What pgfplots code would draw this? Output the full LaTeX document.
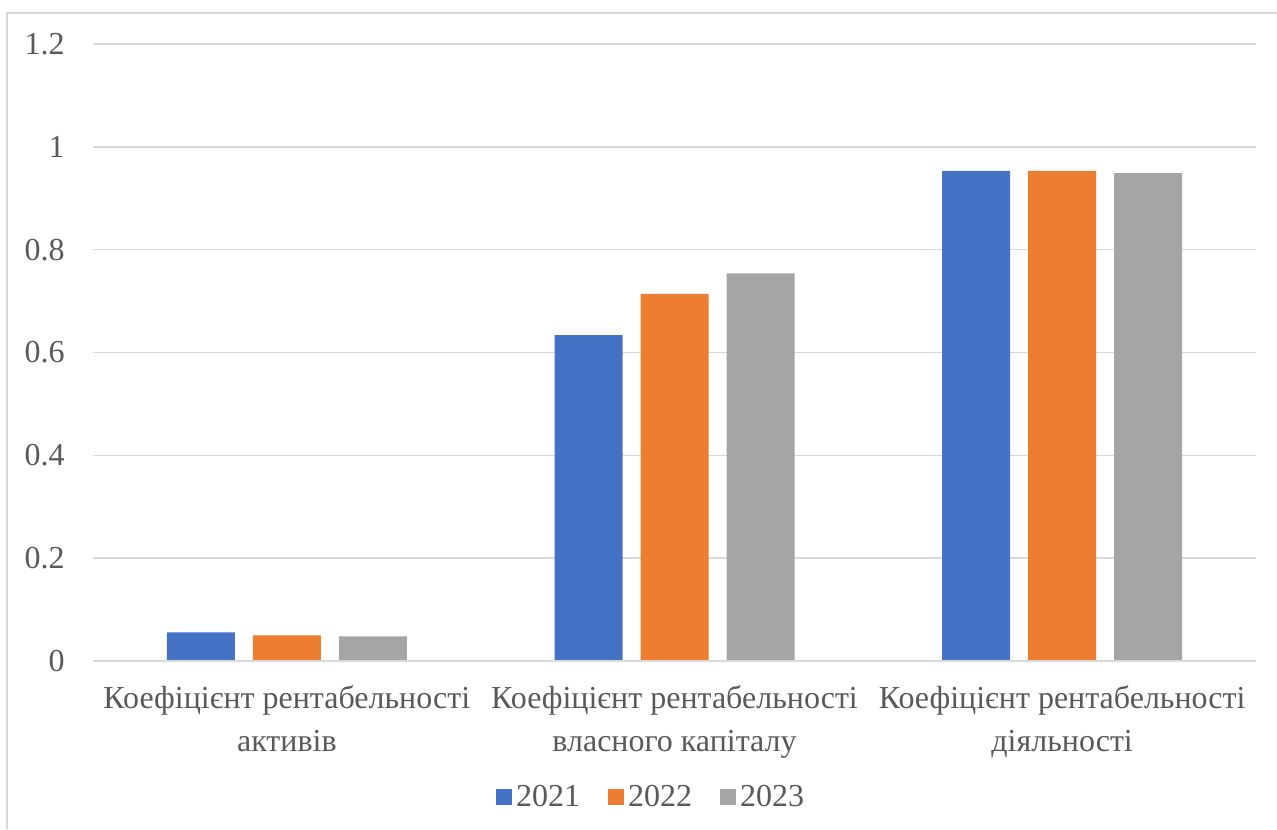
\documentclass[border=0pt]{standalone}
\usepackage{pgfplots}
\pgfplotsset{compat=1.18}
\usepackage{fontspec}
\setmainfont{Liberation Serif}
\definecolor{c1}{HTML}{4472C4}
\definecolor{c2}{HTML}{ED7D31}
\definecolor{c3}{HTML}{A5A5A5}
\definecolor{txt}{HTML}{595959}
\definecolor{grd}{HTML}{D9D9D9}
\begin{document}
\begin{tikzpicture}
\path[use as bounding box] (0,0) rectangle (638.5pt,414.5pt);
\draw[grd, line width=0.8pt] (3.5pt,0) -- (3.5pt,408pt) -- (638.5pt,408pt);
\begin{axis}[
  at={(46.5pt,84pt)}, anchor=south west,
  scale only axis, width=581.5pt, height=308.5pt,
  ymin=0, ymax=1.2, ytick={0,0.2,...,1.2},
  xmin=-0.5, xmax=2.5, xtick={0,1,2},
  xticklabels={{Коефіцієнт рентабельності\\активів},{Коефіцієнт рентабельності\\власного капіталу},{Коефіцієнт рентабельності\\діяльності}},
  axis line style={draw=none},
  major tick length=0pt,
  ymajorgrids, grid style={grd, line width=0.8pt},
  /pgf/number format/assume math mode=true,
  tick label style={font=\fontsize{16}{16}\selectfont, text=txt},
  yticklabel style={anchor=east, inner sep=0pt, xshift=-14pt},
  xticklabel style={align=center, anchor=north, inner sep=0pt, yshift=-12pt, font=\fontsize{16}{21.5}\selectfont},
  ybar=9pt, bar width=34pt,
  every axis plot/.append style={draw=none},
  legend style={at={(0.4807,-0.2204)}, anchor=center, draw=none, legend columns=3,
    font=\fontsize{16}{16}\selectfont, text=txt,
    /tikz/every even column/.append style={column sep=12pt}},
  legend image code/.code={\fill (0pt,-4pt) rectangle (8pt,4pt);},
  clip=false,
]
\addplot[fill=c1] coordinates {(0,0.0558) (1,0.634) (2,0.953)};
\addplot[fill=c2] coordinates {(0,0.050) (1,0.714) (2,0.953)};
\addplot[fill=c3] coordinates {(0,0.048) (1,0.754) (2,0.949)};
\draw[grd, line width=0.8pt] (axis cs:-0.5,0) -- (axis cs:2.5,0);
\legend{2021,2022,2023}
\end{axis}
\end{tikzpicture}
\end{document}
